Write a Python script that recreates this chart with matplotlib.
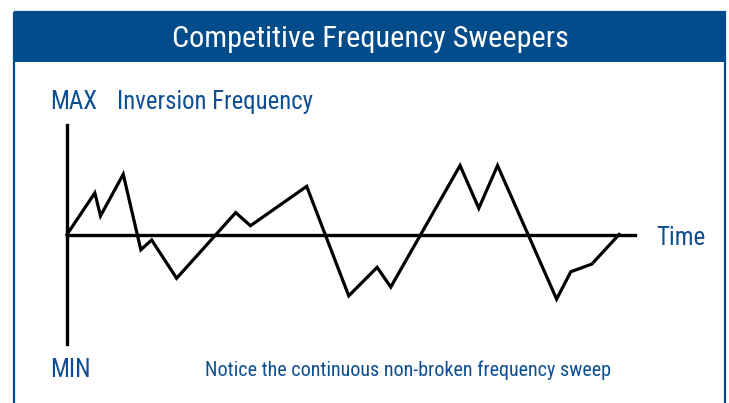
import matplotlib
matplotlib.use("Agg")
import matplotlib.pyplot as plt
from matplotlib.patches import Rectangle

HEADER_BLUE = "#034C8C"
TEXT_BLUE = "#0E4F94"
FONT = ["Roboto Condensed", "Archivo Narrow", "DejaVu Sans"]

# sweep shape: time (0-100) vs frequency (-1 = MIN, +1 = MAX)
time = [0, 4.9, 5.9, 9.9, 13.0, 14.9, 19.3, 29.7, 32.3, 42.2,
        49.6, 54.6, 57.0, 69.2, 72.5, 75.8, 86.2, 88.7, 92.4, 97.2]
freq = [0, 0.38, 0.17, 0.55, -0.14, -0.05, -0.40, 0.20, 0.08, 0.44,
        -0.56, -0.30, -0.48, 0.63, 0.24, 0.63, -0.59, -0.34, -0.27, 0]

title = "Competitive Frequency Sweepers"
note = "Notice the continuous non-broken frequency sweep"

W, H = 729, 403
fig = plt.figure(figsize=(W / 100, H / 100), dpi=100, facecolor="white")

# background layer in pixel coordinates for the frame and labels
bg = fig.add_axes([0, 0, 1, 1])
bg.set_xlim(0, W)
bg.set_ylim(H, 0)
bg.axis("off")
bg.add_patch(Rectangle((14, 12), 711, 420, fill=False, edgecolor=HEADER_BLUE,
                       linewidth=1.6, clip_on=False))
bg.add_patch(Rectangle((13, 12), 713, 50, facecolor=HEADER_BLUE, edgecolor="none"))
bg.text(370, 47, title, color="white", fontsize=21.8, family=FONT,
        ha="center", va="baseline")
bg.text(50, 109, "MAX", color=TEXT_BLUE, fontsize=18, family=FONT, va="baseline")
bg.text(117, 109, "Inversion Frequency", color=TEXT_BLUE, fontsize=17.8, family=FONT,
        va="baseline")
bg.text(656, 245, "Time", color=TEXT_BLUE, fontsize=18, family=FONT, va="baseline")
bg.text(50, 377, "MIN", color=TEXT_BLUE, fontsize=18, family=FONT, va="baseline")
bg.text(205, 376, note, color=TEXT_BLUE, fontsize=14.5, family=FONT, va="baseline")

# chart area
ax = fig.add_axes([67 / W, (H - 344) / H, 568 / W, 219 / H])
ax.set_xlim(0, 100)
ax.set_ylim(-1, 1)
ax.axis("off")
ax.axhline(0, color="black", linewidth=2.4, clip_on=False)
ax.axvline(0, color="black", linewidth=2.4, clip_on=False)
ax.plot(time, freq, color="black", linewidth=2.3, clip_on=False,
        solid_joinstyle="miter")

fig.savefig("out.png", dpi=100, facecolor="white")
